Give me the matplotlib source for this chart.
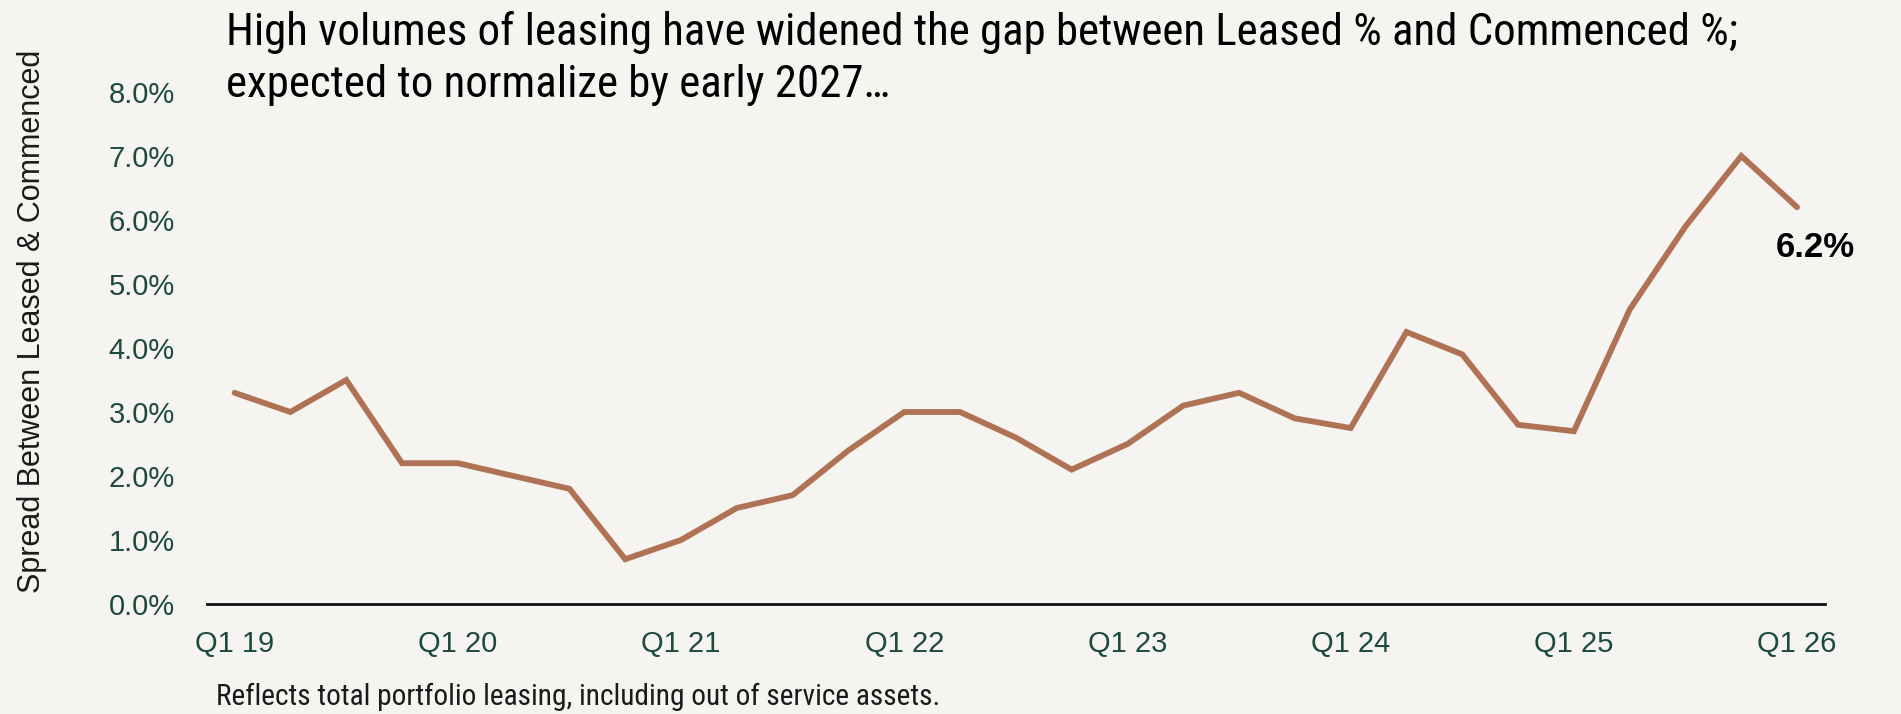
import matplotlib
matplotlib.use("Agg")
import matplotlib.pyplot as plt
from matplotlib import font_manager as fm
from matplotlib.ticker import FuncFormatter, FixedLocator

# ---------------- data ----------------
quarters = [
    "Q1 19", "Q2 19", "Q3 19", "Q4 19",
    "Q1 20", "Q2 20", "Q3 20", "Q4 20",
    "Q1 21", "Q2 21", "Q3 21", "Q4 21",
    "Q1 22", "Q2 22", "Q3 22", "Q4 22",
    "Q1 23", "Q2 23", "Q3 23", "Q4 23",
    "Q1 24", "Q2 24", "Q3 24", "Q4 24",
    "Q1 25", "Q2 25", "Q3 25", "Q4 25",
    "Q1 26",
]
spread_pct = [
    3.3, 3.0, 3.5, 2.2,
    2.2, 2.0, 1.8, 0.7,
    1.0, 1.5, 1.7, 2.4,
    3.0, 3.0, 2.6, 2.1,
    2.5, 3.1, 3.3, 2.9,
    2.75, 4.25, 3.9, 2.8,
    2.7, 4.6, 5.9, 7.0,
    6.2,
]
y_ticks = [0, 1, 2, 3, 4, 5, 6, 7, 8]
title_lines = [
    "High volumes of leasing have widened the gap between Leased % and Commenced %;",
    "expected to normalize by early 2027\u2026",
]
y_label = "Spread Between Leased & Commenced"
footnote = "Reflects total portfolio leasing, including out of service assets."
last_label = "6.2%"

# ---------------- style ----------------
W, H = 1901, 714
BG = "#f5f4f0"
LINE = "#b07254"
TICK = "#1d4a3f"

fonts = fm.fontManager.ttflist
names = {f.name for f in fonts}
SANS = "Liberation Sans" if "Liberation Sans" in names else "DejaVu Sans"
NARROW = SANS
for cand in ["Roboto Condensed", "Liberation Sans Narrow", "Open Sans Condensed",
             "Lato", "Open Sans"]:
    if cand in names:
        NARROW = cand
        break

fig = plt.figure(figsize=(W / 100, H / 100), dpi=100, facecolor=BG)
ax = fig.add_axes([206.7 / W, (H - 604) / H, (1825 - 206.7) / W, (604 - 92) / H])
ax.set_facecolor(BG)

x = list(range(len(quarters)))
ax.plot(x, spread_pct, color=LINE, lw=4.2, solid_capstyle="round",
        solid_joinstyle="miter")

ax.set_xlim(-0.5, len(quarters) - 0.5)
ax.set_ylim(y_ticks[0], y_ticks[-1])

tick_idx = [i for i, q in enumerate(quarters) if q.startswith("Q1")]
ax.xaxis.set_major_locator(FixedLocator(tick_idx))
ax.set_xticklabels([quarters[i] for i in tick_idx])
ax.yaxis.set_major_locator(FixedLocator(y_ticks))
ax.yaxis.set_major_formatter(FuncFormatter(lambda v, p: f"{v:.1f}%"))

for s in ["top", "right", "left"]:
    ax.spines[s].set_visible(False)
ax.spines["bottom"].set_color("#111111")
ax.spines["bottom"].set_linewidth(2.0)

ax.tick_params(axis="both", length=0, labelsize=21, labelcolor=TICK)
ax.tick_params(axis="y", pad=23)
ax.tick_params(axis="x", pad=19)
for lab in ax.get_xticklabels() + ax.get_yticklabels():
    lab.set_fontfamily(SANS)

fig.text(32 / W, 1 - 321 / H, y_label, rotation=90, ha="center", va="center",
         fontsize=22, family=SANS, color="#1a1a1a")

# annotation for last value
ax.annotate(last_label, xy=(x[-1], spread_pct[-1]), xytext=(18, -40),
            textcoords="offset pixels", ha="center", va="center",
            fontsize=25, fontweight="bold", family=SANS, color="#000000")

# title lines
t1 = fig.text(225.5 / W, 1 - 45 / H, title_lines[0], ha="left", va="baseline",
              fontsize=30, family=NARROW, color="#000000")
t2 = fig.text(225.5 / W, 1 - 97 / H, title_lines[1], ha="left", va="baseline",
              fontsize=30, family=NARROW, color="#000000")
fn = fig.text(216 / W, 1 - 697 / H, footnote, ha="left", va="center",
              fontsize=16, family=NARROW, color="#1a1a1a")

# fit widths to the reference
fig.canvas.draw()
r = fig.canvas.get_renderer()
w1 = t1.get_window_extent(r).width
fs = 30 * 1511 / w1
t1.set_fontsize(fs)
t2.set_fontsize(fs)
wf = fn.get_window_extent(r).width
fn.set_fontsize(16 * 725 / wf)

fig.savefig("out.png", dpi=100, facecolor=BG)
